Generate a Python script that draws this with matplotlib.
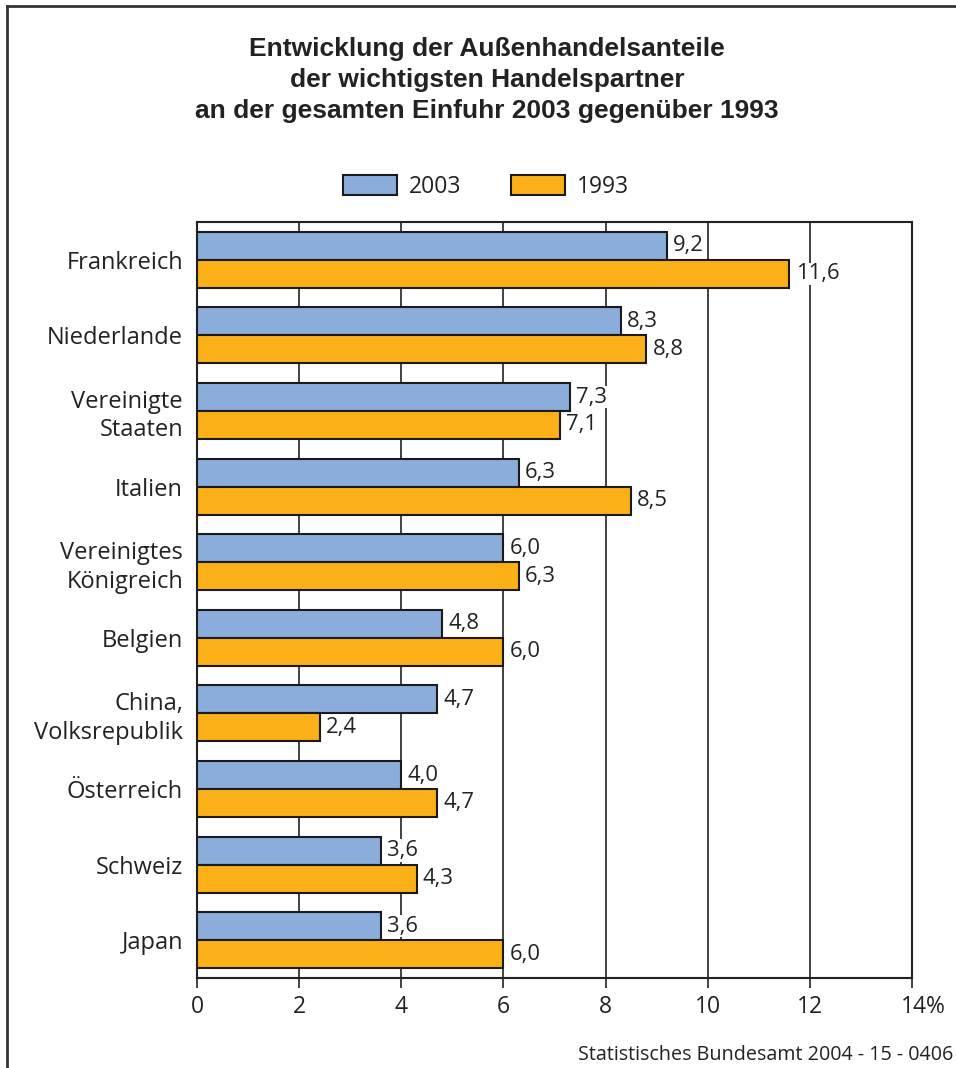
import matplotlib
matplotlib.use("Agg")
import matplotlib.pyplot as plt
from matplotlib.patches import Patch
from matplotlib.transforms import ScaledTranslation
import numpy as np

categories = ["Frankreich", "Niederlande", "Vereinigte\nStaaten", "Italien",
              "Vereinigtes\nKönigreich", "Belgien", "China,\nVolksrepublik",
              "Österreich", "Schweiz", "Japan"]
values_2003 = [9.2, 8.3, 7.3, 6.3, 6.0, 4.8, 4.7, 4.0, 3.6, 3.6]
values_1993 = [11.6, 8.8, 7.1, 8.5, 6.3, 6.0, 2.4, 4.7, 4.3, 6.0]
series_names = ["2003", "1993"]
xticks = [0, 2, 4, 6, 8, 10, 12, 14]
xtick_labels = ["0", "2", "4", "6", "8", "10", "12", "14%"]
title = "Entwicklung der Außenhandelsanteile\nder wichtigsten Handelspartner\nan der gesamten Einfuhr 2003 gegenüber 1993"
footer = "Statistisches Bundesamt 2004 - 15 - 0406"

plt.rcParams['font.family'] = ["Open Sans", "DejaVu Sans"]

blue = "#8aaddb"
orange = "#fcb017"
ink = "#222222"

fig = plt.figure(figsize=(9.56, 10.68), dpi=100)
ax = fig.add_axes([197/956, 1-978/1068, (912-197)/956, (978-222)/1068])

n = len(categories)
y = np.arange(n)
h = 0.37
ax.barh(y - h/2, values_2003, height=h, color=blue, edgecolor="#1a1a1a", linewidth=1.5, zorder=3)
ax.barh(y + h/2, values_1993, height=h, color=orange, edgecolor="#1a1a1a", linewidth=1.5, zorder=3)

for i in range(n):
    for v, yy in ((values_2003[i], y[i] - h/2), (values_1993[i], y[i] + h/2)):
        ax.text(v + 0.12, yy, f"{v:.1f}".replace(".", ","),
                va="center", ha="left", fontsize=15.8, color=ink, zorder=4,
                bbox=dict(facecolor="white", edgecolor="none", pad=0.5))

ax.set_xlim(0, 14)
ax.set_ylim(n - 0.5, -0.5)
ax.set_xticks(xticks)
ax.set_xticklabels(xtick_labels, color=ink, fontsize=16.5)
ax.set_yticks(y)
ax.set_yticklabels(categories, color=ink, fontsize=17, linespacing=1.25)
ax.tick_params(axis="y", length=0, pad=10)
ax.tick_params(axis="x", length=7, width=1.2, direction="out", pad=5, color=ink)
ax.grid(axis="x", color=ink, linewidth=1.2, zorder=1)
ax.set_axisbelow(True)
for s in ax.spines.values():
    s.set_color(ink)
    s.set_linewidth(1.5)
# the "%" hangs to the right of the centred number
last = ax.xaxis.get_major_ticks()[-1].label1
last.set_transform(last.get_transform() + ScaledTranslation(11/100, 0, fig.dpi_scale_trans))

handles = [Patch(facecolor=blue, edgecolor="#1a1a1a", linewidth=1.5),
           Patch(facecolor=orange, edgecolor="#1a1a1a", linewidth=1.5)]
leg = fig.legend(handles, series_names, loc="center", bbox_to_anchor=(486/956, 1-187/1068),
                 ncol=2, frameon=False, fontsize=16.5, handlelength=2.35, handleheight=0.95,
                 columnspacing=2.2, handletextpad=0.5)
for t in leg.get_texts():
    t.set_color(ink)

fig.text(487/956, 1-80/1068, title, ha="center", va="center", fontsize=19,
         fontweight="bold", family=["Liberation Sans", "DejaVu Sans"], color=ink,
         linespacing=1.36)
fig.text(953/956, 1-1055/1068, footer, ha="right", va="center", fontsize=14.2, color=ink)

fig.add_artist(plt.Line2D([7/956, 7/956], [0, 1-6/1068], color="#333333", linewidth=2))
fig.add_artist(plt.Line2D([7/956, 1], [1-6/1068, 1-6/1068], color="#333333", linewidth=2))

fig.savefig("out.png", dpi=100)
